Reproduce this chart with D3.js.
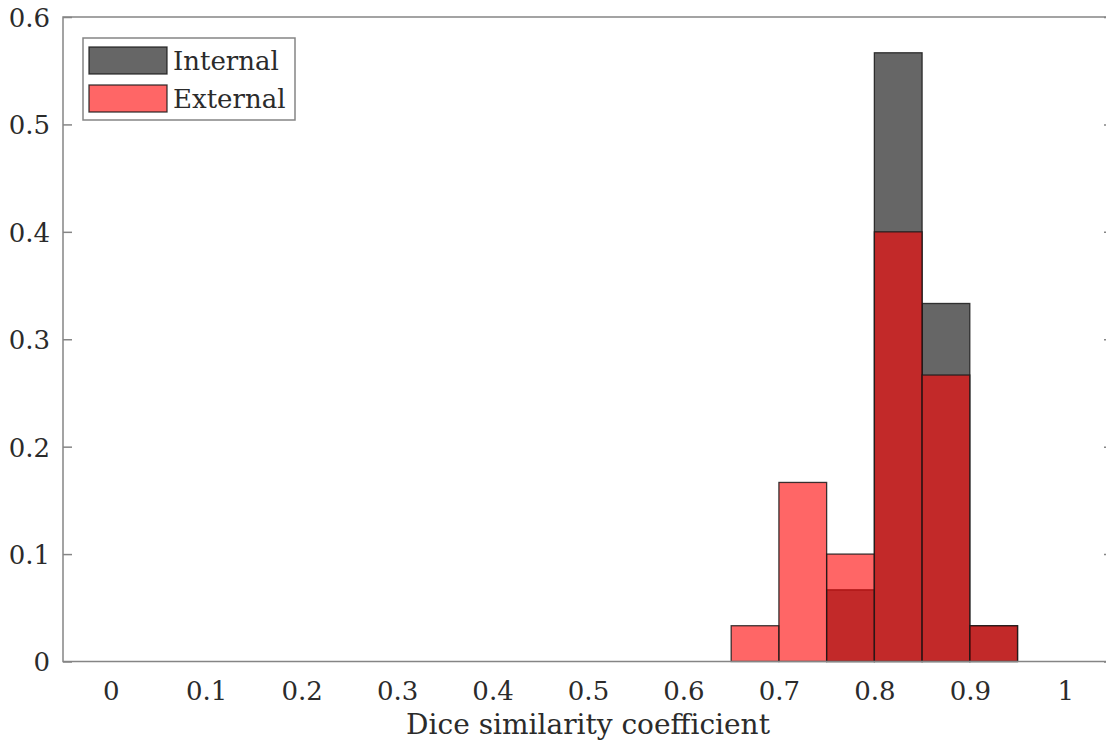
<!DOCTYPE html>
<html>
<head>
<meta charset="utf-8">
<script src="https://cdn.jsdelivr.net/npm/d3@7"></script>
<style>
  html, body { margin: 0; padding: 0; background: #fff; }
  svg { display: block; }
  text { font-family: "DejaVu Serif", "Liberation Serif", serif; fill: #2b2b2b; }
</style>
</head>
<body>
<svg id="chart" width="1106" height="749"></svg>
<script>
// ---- data ----
const binEdges = [0.65, 0.70, 0.75, 0.80, 0.85, 0.90, 0.95];
const internalValues = [0, 0, 0.0667, 0.5667, 0.3333, 0.0333];
const externalValues = [0.0333, 0.1667, 0.1, 0.4, 0.2667, 0.0333];
const seriesNames = ["Internal", "External"];
const xTicks = [0, 0.1, 0.2, 0.3, 0.4, 0.5, 0.6, 0.7, 0.8, 0.9, 1];
const xTickLabels = ["0", "0.1", "0.2", "0.3", "0.4", "0.5", "0.6", "0.7", "0.8", "0.9", "1"];
const yTicks = [0, 0.1, 0.2, 0.3, 0.4, 0.5, 0.6];
const yTickLabels = ["0", "0.1", "0.2", "0.3", "0.4", "0.5", "0.6"];
const xLabel = "Dice similarity coefficient";

// ---- layout ----
const svg = d3.select("#chart");
const mLeft = 63, mRight = 1113, mTop = 17, mBottom = 661.5;
const x = d3.scaleLinear().domain([-0.05, 1.05]).range([mLeft, mRight]);
const y = d3.scaleLinear().domain([0, 0.6]).range([mBottom, mTop]);
const fontSize = 26;
const labelSize = 28;
const axisColor = "#858585";
const textColor = "#2b2b2b";

function bins(values) {
  return values.map((v, i) => ({ x0: binEdges[i], x1: binEdges[i + 1], v }));
}

const series = [
  { name: seriesNames[0], data: bins(internalValues), fill: "#000000" },
  { name: seriesNames[1], data: bins(externalValues), fill: "#ff0000" }
];

// bars
series.forEach(s => {
  svg.append("g")
    .selectAll("rect")
    .data(s.data.filter(d => d.v > 0))
    .join("rect")
    .attr("x", d => x(d.x0))
    .attr("width", d => x(d.x1) - x(d.x0))
    .attr("y", d => y(d.v))
    .attr("height", d => y(0) - y(d.v))
    .attr("fill", s.fill)
    .attr("fill-opacity", 0.6)
    .attr("stroke", "#1a1a1a")
    .attr("stroke-opacity", 0.85)
    .attr("stroke-width", 1.3);
});

// axes box
svg.append("rect")
  .attr("x", mLeft).attr("y", mTop)
  .attr("width", mRight - mLeft).attr("height", mBottom - mTop)
  .attr("fill", "none").attr("stroke", axisColor).attr("stroke-width", 1.5);

// left y axis
const yAxis = svg.append("g")
  .attr("transform", `translate(${mLeft},0)`)
  .call(d3.axisLeft(y).tickValues(yTicks)
    .tickFormat((d, i) => yTickLabels[i]).tickSize(-9).tickPadding(13));
yAxis.select(".domain").remove();
yAxis.attr("font-family", null).attr("font-size", null);
yAxis.selectAll(".tick line").attr("stroke", axisColor).attr("stroke-width", 1.5);
yAxis.selectAll(".tick text")
  .attr("font-size", fontSize)
  .attr("fill", textColor).attr("dy", "0.36em");

// right y axis (ticks only)
const yAxisR = svg.append("g")
  .attr("transform", `translate(${mRight},0)`)
  .call(d3.axisRight(y).tickValues(yTicks).tickFormat("").tickSize(-9));
yAxisR.select(".domain").remove();
yAxisR.selectAll(".tick line").attr("stroke", axisColor).attr("stroke-width", 1.5);

// x axis (labels only)
const xAxis = svg.append("g")
  .attr("transform", `translate(0,${mBottom})`)
  .call(d3.axisBottom(x).tickValues(xTicks)
    .tickFormat((d, i) => xTickLabels[i]).tickSize(0).tickPadding(20));
xAxis.select(".domain").remove();
xAxis.attr("font-family", null).attr("font-size", null);
xAxis.selectAll(".tick text")
  .attr("font-size", fontSize).attr("fill", textColor);

// x label
svg.append("text")
  .attr("x", x(0.5)).attr("y", 734)
  .attr("text-anchor", "middle")
  .attr("font-size", labelSize)
  .text(xLabel);

// legend
const lg = svg.append("g");
lg.append("rect")
  .attr("x", 83).attr("y", 38).attr("width", 212).attr("height", 82)
  .attr("fill", "#fff").attr("stroke", axisColor).attr("stroke-width", 1.5);
series.forEach((s, i) => {
  const cy = 60.5 + i * 38;
  lg.append("rect")
    .attr("x", 89).attr("y", cy - 13.5).attr("width", 78).attr("height", 27)
    .attr("fill", s.fill).attr("fill-opacity", 0.6)
    .attr("stroke", "#1a1a1a").attr("stroke-opacity", 0.85).attr("stroke-width", 1.3);
  lg.append("text")
    .attr("x", 173).attr("y", cy)
    .attr("dy", "0.36em")
    .attr("font-size", fontSize)
    .text(s.name);
});
</script>
</body>
</html>
